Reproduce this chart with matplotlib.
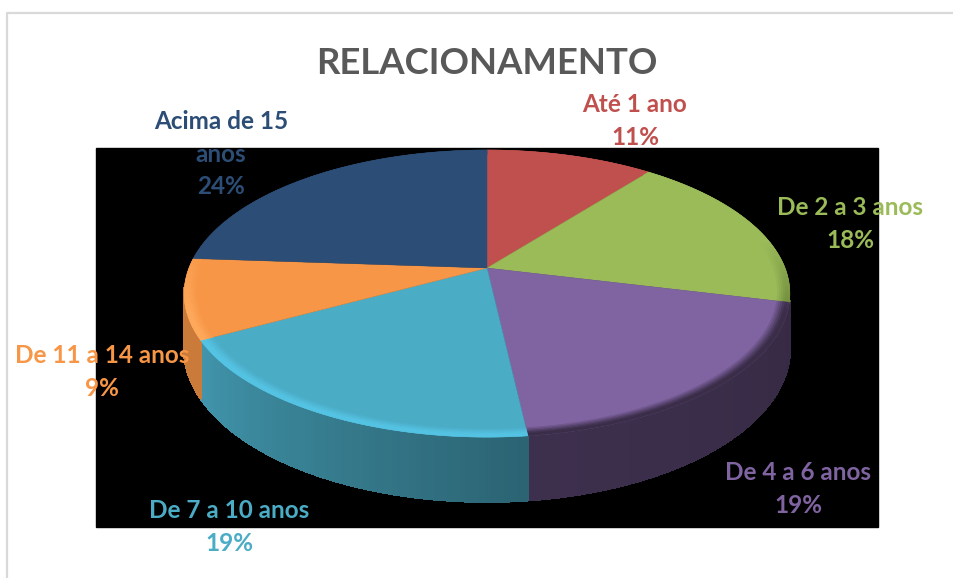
import numpy as np
import matplotlib
matplotlib.use("Agg")
import matplotlib.pyplot as plt
from matplotlib.collections import PolyCollection
from matplotlib.colors import to_rgb
from matplotlib.patches import Rectangle

categorias = ["Até 1 ano", "De 2 a 3 anos", "De 4 a 6 anos", "De 7 a 10 anos", "De 11 a 14 anos", "Acima de 15\nanos"]
valores = [10.6, 18.2, 19.4, 18.9, 9.0, 23.9]
cores = ["#C0504D", "#9BBB59", "#8064A2", "#4BACC6", "#F79646", "#2C4D75"]
# rim colour and shade of the side wall (start, end of each slice)
cores_borda = ["#C0504D", "#6F8A3C", "#3A2D48", "#55C4E4", "#FFA95C", "#2C4D75"]
sombra_lado = [(0.8, 0.8), (0.5, 0.5), (0.42, 0.48), (0.58, 0.87), (0.82, 0.82), (0.5, 0.5)]
# label centres in pixels
pos_rotulos = [(635, 121), (850, 224), (798, 489), (229, 527), (102, 372), (221, 154)]

CX, CY = 487, 268
A, B, P, D = 298, 139, 0.178, 53
ANEL = 0.04


def proj(theta, r=1.0, z=0.0):
    # theta in degrees, clockwise from the top; simple perspective on the disc
    t = np.radians(theta)
    u, v = r * np.sin(t), r * np.cos(t)
    w = 1 + P * v
    return CX + A * u / w, CY - (B * v - z) / w


def mistura(c1, c2, t):
    return tuple((1 - t) * a + t * b for a, b in zip(to_rgb(c1), to_rgb(c2)))


fig = plt.figure(figsize=(9.54, 5.78), dpi=100)
ax = fig.add_axes([0, 0, 1, 1])
ax.set_xlim(0, 954)
ax.set_ylim(578, 0)
ax.axis("off")

ax.plot([7, 7, 954], [578, 13, 13], color="#D9D9D9", lw=1.6, zorder=1)
ax.add_patch(Rectangle((96, 148), 782, 379, color="black", zorder=2))

limites = np.concatenate([[0], np.cumsum(valores)]) * 360 / sum(valores)

# side wall
polys, cols = [], []
for i, cor in enumerate(cores):
    ini = max(limites[i], 103)
    fim = min(limites[i + 1], 262)
    if fim <= ini:
        continue
    ts = np.arange(ini, fim + 1, 1.0)
    ts[-1] = fim
    for a, b in zip(ts[:-1], ts[1:]):
        x0, y0 = proj(a)
        x1, y1 = proj(b)
        x2, y2 = proj(b, z=D)
        x3, y3 = proj(a, z=D)
        polys.append([(x0, y0), (x1, y1), (x2, y2), (x3, y3)])
        f = (a - limites[i]) / (limites[i + 1] - limites[i])
        s = sombra_lado[i][0] + f * (sombra_lado[i][1] - sombra_lado[i][0])
        cols.append(tuple(c * s for c in to_rgb(cor)))
ax.add_collection(PolyCollection(polys, facecolors=cols, edgecolors=cols, linewidths=1.2,
                                 antialiaseds=False, zorder=3))

# top of the pie
for i, cor in enumerate(cores):
    ts = np.linspace(limites[i], limites[i + 1], 120)
    x, y = proj(ts)
    ax.fill(np.r_[CX, x], np.r_[CY, y], color=cor, lw=0.3, zorder=4)

# soft bevel on the front rim
polys, cols = [], []
aneis = np.linspace(1 - ANEL, 1, 7)
for i, cor in enumerate(cores):
    ts = np.arange(limites[i], limites[i + 1] + 1, 1.0)
    ts[-1] = limites[i + 1]
    for a, b in zip(ts[:-1], ts[1:]):
        forca = np.clip((0.2 - np.cos(np.radians((a + b) / 2))) / 0.5, 0, 1)
        for r0, r1 in zip(aneis[:-1], aneis[1:]):
            x0, y0 = proj(a, r0)
            x1, y1 = proj(b, r0)
            x2, y2 = proj(b, r1)
            x3, y3 = proj(a, r1)
            polys.append([(x0, y0), (x1, y1), (x2, y2), (x3, y3)])
            t = forca * min(1, (r1 - aneis[0]) / ANEL * 1.3)
            cols.append(mistura(cor, cores_borda[i], t))
ax.add_collection(PolyCollection(polys, facecolors=cols, edgecolors=cols, linewidths=0.4, zorder=5))

ax.text(487, 63, "RELACIONAMENTO", family="Lato", weight="bold", fontsize=26.3,
        color="#595959", ha="center", va="center", zorder=6)

for nome, val, cor, (xt, yt) in zip(categorias, valores, cores, pos_rotulos):
    ax.text(xt, yt, "%s\n%.0f%%" % (nome, val), family="Lato", weight="bold", fontsize=17.5,
            color=cor, ha="center", va="center", linespacing=1.52, zorder=6)

fig.savefig("out.png", dpi=100)
